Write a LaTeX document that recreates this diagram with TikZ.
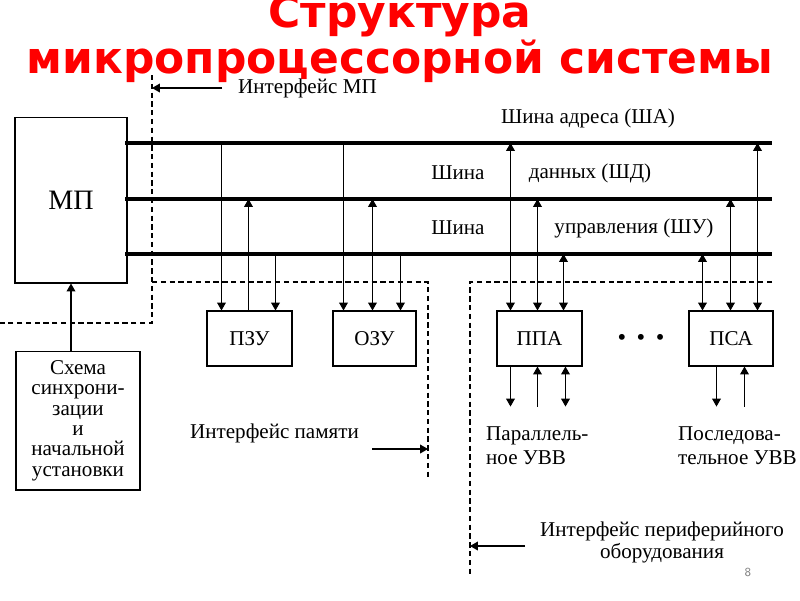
\documentclass[tikz,border=0pt]{standalone}
\usepackage{fontspec}
\setmainfont{Liberation Serif}
\newfontfamily\titlefont{DejaVu Sans}
\usetikzlibrary{arrows.meta}

\tikzset{
  box/.style={draw, line width=0.6pt, minimum width=1.7cm, minimum height=1.1cm, inner sep=0pt},
  bus/.style={line width=2.3pt},
  iface/.style={line width=0.6pt, dash pattern=on 3pt off 2pt},
  conn/.style={line width=0.6pt},
  >={Triangle[width=5pt,length=4.5pt]}
}

\begin{document}
\begin{tikzpicture}[x=0.02cm, y=-0.02cm, font=\fontsize{12}{14}\selectfont]
        \useasboundingbox (0,0) rectangle (800,600);

        % Title
        \node[anchor=base, text=red, font=\titlefont\bfseries\fontsize{25}{30}\selectfont] (title1) at (400,27) {Структура};
        \node[anchor=base, text=red, font=\titlefont\bfseries\fontsize{25}{30}\selectfont] (title2) at (400,73) {микропроцессорной системы};

        % Processor and sync circuit
        \node[box, minimum width=2.24cm, minimum height=3.32cm, font=\fontsize{16}{18}\selectfont] (mp) at (71,200) {МП};
        \node[box, minimum width=2.48cm, minimum height=2.78cm, align=center, font=\fontsize{12}{11.6}\selectfont] (sync) at (78,420.5) {Схема\\синхрони-\\зации\\и\\начальной\\установки};
        \draw[conn, ->] (sync.north -| mp.south) -- (mp.south);

        % Memory and I/O blocks
        \node[box] (pzu) at (249.5,338.5) {ПЗУ};
        \node[box, minimum width=1.66cm] (ozu) at (374.5,338.5) {ОЗУ};
        \node[box] (ppa) at (539.5,338.5) {ППА};
        \node[box, minimum width=1.68cm] (psa) at (731,338.5) {ПСА};
        \node[font=\fontsize{14}{16}\selectfont] (dots) at (641,340) {•\hspace{6pt}•\hspace{6pt}•};

        % Buses
        \foreach \bn/\by in {sha/143, shd/199, shu/254} {
            \coordinate (\bn) at (125,\by);
            \draw[bus] (\bn) -- (772,\by);
        }
        \node (shaL) at (588,118) {Шина адреса (ША)};
        \node (shdL) at (458,173) {Шина};
        \node (shdR) at (590,173) {данных (ШД)};
        \node (shuL) at (458,228) {Шина};
        \node (shuR) at (634,228) {управления (ШУ)};

        % Bus taps
        \foreach \bx/\dx/\bn/\tip in {pzu/15/sha/->, pzu/42/shd/<-, pzu/69/shu/->,
                                     ozu/11/sha/->, ozu/40/shd/<->, ozu/68/shu/->,
                                     ppa/14/sha/<->, ppa/41/shd/<->, ppa/67/shu/<->,
                                     psa/14/shu/<->, psa/42/shd/<->, psa/69/sha/<->} {
            \path (\bx.north west) ++(\dx,0) coordinate (p);
            \draw[conn, \tip] (p |- \bn) -- (p);
        }

        % Device side lines
        \foreach \bx/\dx/\tip in {ppa/14/->, ppa/41/<-, ppa/69/<->, psa/28/->, psa/56/<-} {
            \path (\bx.south west) ++(\dx,0) coordinate (p);
            \draw[conn, \tip] (p) -- ++(0,40);
        }
        \node[anchor=west, align=left] (ppaL) at (480,445.5) {Параллель-\\ное  УВВ};
        \node[anchor=west, align=left] (psaL) at (672,445.5) {Последова-\\тельное  УВВ};

        % Interface borders
        \draw[iface] (152,75) -- (152,323) -- (0,323);
        \draw[iface] (152,282) -- (428,282) -- (428,477);
        \draw[iface] (772,282) -- (470,282) -- (470,575);

        % Interface labels
        \coordinate (mpif) at (152,88);
        \node[anchor=west] (ifmp) at (232,88) {Интерфейс МП};
        \draw[conn, ->] (ifmp.west) ++(-10,0) -- (mpif);

        \coordinate (memif) at (428,449);
        \node (ifmem) at (274.5,433) {Интерфейс памяти};
        \draw[conn, ->] (memif) ++(-56,0) -- (memif);

        \coordinate (perif) at (470,546);
        \node[align=center, font=\fontsize{12}{11}\selectfont] (ifper) at (662,542.5) {Интерфейс периферийного\\оборудования};
        \draw[conn, ->] (perif) ++(55,0) -- (perif);

        % Slide number
        \node[text=gray, font=\sffamily\fontsize{7}{8}\selectfont] (num) at (748,572) {8};
\end{tikzpicture}
\end{document}
